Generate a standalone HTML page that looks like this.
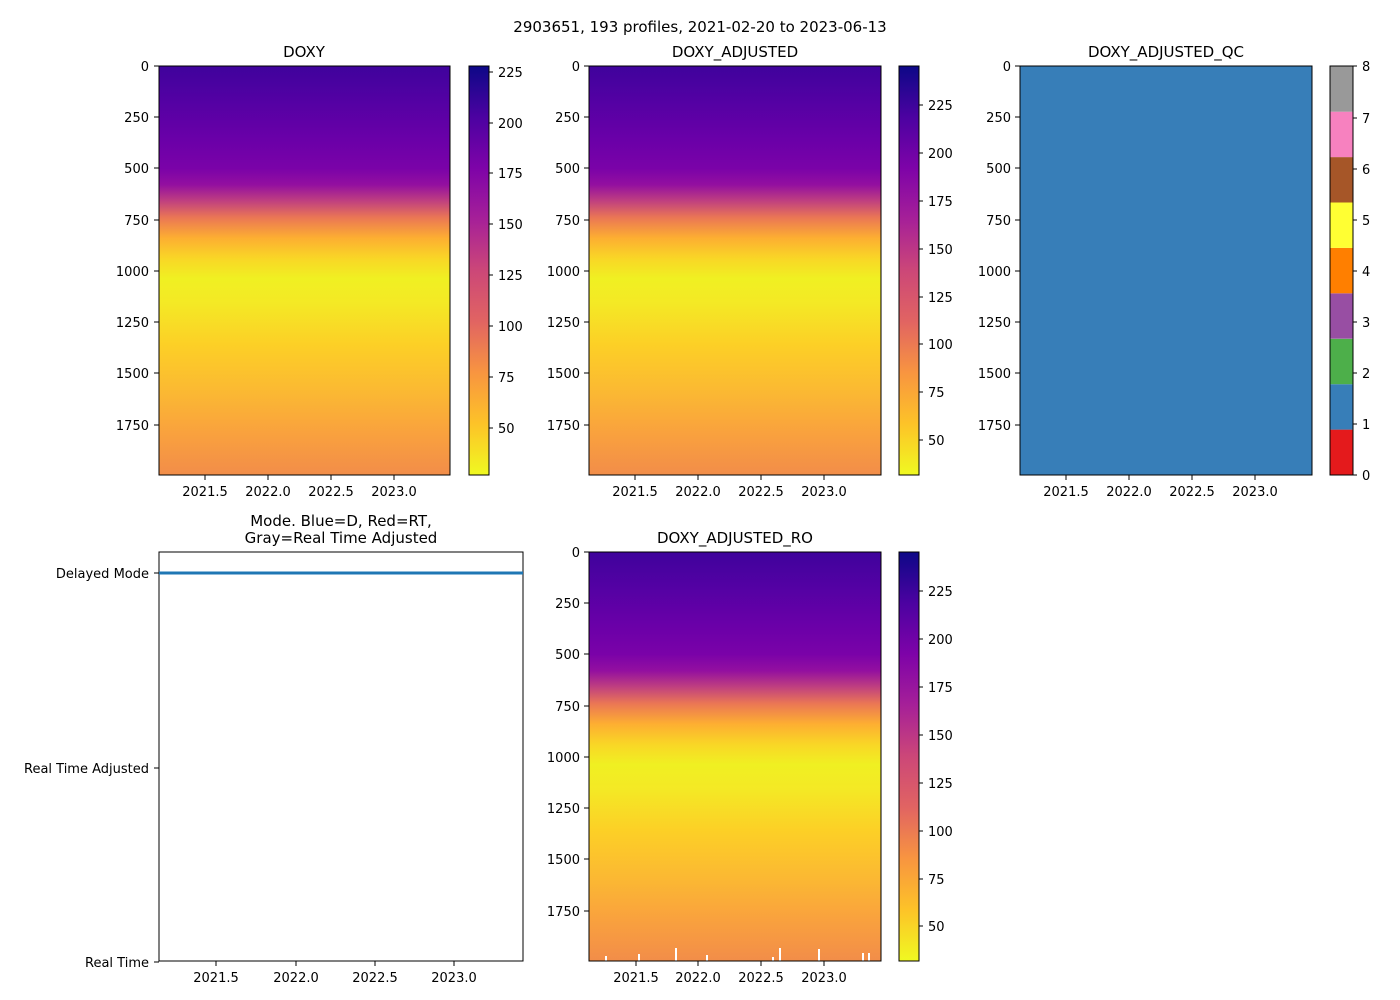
<!DOCTYPE html>
<html><head><meta charset="utf-8"><style>body{margin:0;background:#fff}svg{display:block;font-family:"DejaVu Sans","Liberation Sans",sans-serif}</style></head>
<body>
<svg width="1400" height="1000" viewBox="0 0 1400 1000" xmlns="http://www.w3.org/2000/svg">
<defs>
<linearGradient id="depth" x1="0" y1="0" x2="0" y2="1">
<stop offset="0" stop-color="#3f039c"/>
<stop offset="0.08" stop-color="#5201a3"/>
<stop offset="0.18" stop-color="#6a00a8"/>
<stop offset="0.25" stop-color="#7a02a8"/>
<stop offset="0.29" stop-color="#930fa0"/>
<stop offset="0.33" stop-color="#c0407f"/>
<stop offset="0.37" stop-color="#ea7655"/>
<stop offset="0.42" stop-color="#fdae32"/>
<stop offset="0.47" stop-color="#f9d626"/>
<stop offset="0.52" stop-color="#f0f022"/>
<stop offset="0.58" stop-color="#f4e925"/>
<stop offset="0.68" stop-color="#fcd026"/>
<stop offset="0.8" stop-color="#fbb833"/>
<stop offset="0.9" stop-color="#f9a13e"/>
<stop offset="1" stop-color="#f28d49"/>
</linearGradient>
<linearGradient id="plasma" x1="0" y1="1" x2="0" y2="0">
<stop offset="0" stop-color="#f0f921"/>
<stop offset="0.125" stop-color="#fdc328"/>
<stop offset="0.25" stop-color="#f89540"/>
<stop offset="0.375" stop-color="#e16462"/>
<stop offset="0.5" stop-color="#cc4778"/>
<stop offset="0.625" stop-color="#a62098"/>
<stop offset="0.75" stop-color="#7e03a8"/>
<stop offset="0.875" stop-color="#4c02a1"/>
<stop offset="1" stop-color="#0d0887"/>
</linearGradient>
</defs>
<text x="700" y="32" font-size="15" text-anchor="middle">2903651, 193 profiles, 2021-02-20 to 2023-06-13</text>

<g font-size="13" fill="#000">
<text x="304" y="57" font-size="15" text-anchor="middle">DOXY</text>
<rect x="159" y="66" width="291" height="409" fill="url(#depth)"/>
<rect x="159" y="66" width="291" height="409" fill="none" stroke="#000"/>
<rect x="469" y="66" width="20" height="409" fill="url(#plasma)" stroke="#000"/>

<text x="735" y="57" font-size="15" text-anchor="middle">DOXY_ADJUSTED</text>
<rect x="589" y="66" width="292" height="409" fill="url(#depth)"/>
<rect x="589" y="66" width="292" height="409" fill="none" stroke="#000"/>
<rect x="899" y="66" width="20" height="409" fill="url(#plasma)" stroke="#000"/>

<text x="1166" y="57" font-size="15" text-anchor="middle">DOXY_ADJUSTED_QC</text>
<rect x="1020" y="66" width="292" height="409" fill="#377eb8" stroke="#000"/>
<g>
<rect x="1330" y="429.6" width="23" height="45.4" fill="#e41a1c"/>
<rect x="1330" y="384.2" width="23" height="45.4" fill="#377eb8"/>
<rect x="1330" y="338.8" width="23" height="45.4" fill="#4daf4a"/>
<rect x="1330" y="293.3" width="23" height="45.4" fill="#984ea3"/>
<rect x="1330" y="247.9" width="23" height="45.4" fill="#ff7f00"/>
<rect x="1330" y="202.5" width="23" height="45.4" fill="#ffff33"/>
<rect x="1330" y="157.1" width="23" height="45.4" fill="#a65628"/>
<rect x="1330" y="111.7" width="23" height="45.4" fill="#f781bf"/>
<rect x="1330" y="66" width="23" height="45.7" fill="#999999"/>
<rect x="1330" y="66" width="23" height="409" fill="none" stroke="#000"/>
</g>

<text font-size="15" text-anchor="middle"><tspan x="341" y="526">Mode. Blue=D, Red=RT,</tspan><tspan x="341" y="543">Gray=Real Time Adjusted</tspan></text>
<rect x="159" y="552" width="364" height="409" fill="#fff" stroke="#000"/>
<line x1="159" y1="573" x2="523" y2="573" stroke="#1f77b4" stroke-width="3"/>
<text x="149" y="578" text-anchor="end">Delayed Mode</text>
<text x="149" y="773" text-anchor="end">Real Time Adjusted</text>
<text x="149" y="967" text-anchor="end">Real Time</text>
<path d="M154 573H159M154 768H159M154 962H159" stroke="#000"/>

<text x="735" y="543" font-size="15" text-anchor="middle">DOXY_ADJUSTED_RO</text>
<rect x="589" y="552" width="292" height="409" fill="url(#depth)"/>
<g fill="#fff">
<rect x="605" y="956" width="2" height="5"/><rect x="638" y="954" width="2" height="7"/><rect x="675" y="948" width="2" height="13"/><rect x="706" y="955" width="2" height="6"/><rect x="772" y="957" width="2" height="4"/><rect x="779" y="948" width="2" height="13"/><rect x="818" y="949" width="2" height="12"/><rect x="862" y="953" width="2" height="8"/><rect x="868" y="953" width="2" height="8"/>
</g>
<rect x="589" y="552" width="292" height="409" fill="none" stroke="#000"/>
<rect x="899" y="552" width="20" height="409" fill="url(#plasma)" stroke="#000"/>
</g>

<g font-size="13" fill="#000" text-anchor="end">
<text x="149" y="71">0</text><text x="149" y="122">250</text><text x="149" y="173">500</text><text x="149" y="225">750</text><text x="149" y="276">1000</text><text x="149" y="327">1250</text><text x="149" y="378">1500</text><text x="149" y="430">1750</text>
<path d="M154 66H159M154 117H159M154 168H159M154 220H159M154 271H159M154 322H159M154 373H159M154 425H159" stroke="#000"/>
<text x="580" y="71">0</text><text x="580" y="122">250</text><text x="580" y="173">500</text><text x="580" y="225">750</text><text x="580" y="276">1000</text><text x="580" y="327">1250</text><text x="580" y="378">1500</text><text x="580" y="430">1750</text>
<path d="M584 66H589M584 117H589M584 168H589M584 220H589M584 271H589M584 322H589M584 373H589M584 425H589" stroke="#000"/>
<text x="1011" y="71">0</text><text x="1011" y="122">250</text><text x="1011" y="173">500</text><text x="1011" y="225">750</text><text x="1011" y="276">1000</text><text x="1011" y="327">1250</text><text x="1011" y="378">1500</text><text x="1011" y="430">1750</text>
<path d="M1015 66H1020M1015 117H1020M1015 168H1020M1015 220H1020M1015 271H1020M1015 322H1020M1015 373H1020M1015 425H1020" stroke="#000"/>
<text x="580" y="557">0</text><text x="580" y="608">250</text><text x="580" y="659">500</text><text x="580" y="711">750</text><text x="580" y="762">1000</text><text x="580" y="813">1250</text><text x="580" y="864">1500</text><text x="580" y="916">1750</text>
<path d="M584 552H589M584 603H589M584 654H589M584 706H589M584 757H589M584 808H589M584 859H589M584 911H589" stroke="#000"/>
</g>

<g font-size="13" fill="#000" text-anchor="start">
<text x="498" y="77">225</text><text x="498" y="128">200</text><text x="498" y="178">175</text><text x="498" y="229">150</text><text x="498" y="280">125</text><text x="498" y="331">100</text><text x="498" y="382">75</text><text x="498" y="433">50</text>
<path d="M489 72h4M489 123h4M489 173h4M489 224h4M489 275h4M489 326h4M489 377h4M489 428h4" stroke="#000"/>
<text x="928" y="110">225</text><text x="928" y="158">200</text><text x="928" y="206">175</text><text x="928" y="254">150</text><text x="928" y="302">125</text><text x="928" y="349">100</text><text x="928" y="397">75</text><text x="928" y="445">50</text>
<path d="M919 105h4M919 153h4M919 201h4M919 249h4M919 297h4M919 344h4M919 392h4M919 440h4" stroke="#000"/>
<text x="1362" y="480">0</text><text x="1362" y="429">1</text><text x="1362" y="378">2</text><text x="1362" y="327">3</text><text x="1362" y="276">4</text><text x="1362" y="225">5</text><text x="1362" y="174">6</text><text x="1362" y="123">7</text><text x="1362" y="71">8</text>
<path d="M1353 475h4M1353 424h4M1353 373h4M1353 322h4M1353 271h4M1353 220h4M1353 169h4M1353 118h4M1353 66h4" stroke="#000"/>
<text x="928" y="596">225</text><text x="928" y="644">200</text><text x="928" y="692">175</text><text x="928" y="740">150</text><text x="928" y="788">125</text><text x="928" y="836">100</text><text x="928" y="884">75</text><text x="928" y="931">50</text>
<path d="M919 591h4M919 639h4M919 687h4M919 735h4M919 783h4M919 831h4M919 879h4M919 926h4" stroke="#000"/>
</g>

<g font-size="13" fill="#000" text-anchor="middle">
<text x="205" y="496">2021.5</text><text x="268" y="496">2022.0</text><text x="331" y="496">2022.5</text><text x="394" y="496">2023.0</text>
<path d="M205 475v5M268 475v5M331 475v5M394 475v5" stroke="#000"/>
<text x="635" y="496">2021.5</text><text x="698" y="496">2022.0</text><text x="761" y="496">2022.5</text><text x="824" y="496">2023.0</text>
<path d="M635 475v5M698 475v5M761 475v5M824 475v5" stroke="#000"/>
<text x="1066" y="496">2021.5</text><text x="1129" y="496">2022.0</text><text x="1192" y="496">2022.5</text><text x="1255" y="496">2023.0</text>
<path d="M1066 475v5M1129 475v5M1192 475v5M1255 475v5" stroke="#000"/>
<text x="216" y="982">2021.5</text><text x="296" y="982">2022.0</text><text x="375" y="982">2022.5</text><text x="454" y="982">2023.0</text>
<path d="M216 961v5M296 961v5M375 961v5M454 961v5" stroke="#000"/>
<text x="636" y="982">2021.5</text><text x="698" y="982">2022.0</text><text x="761" y="982">2022.5</text><text x="824" y="982">2023.0</text>
<path d="M636 961v5M698 961v5M761 961v5M824 961v5" stroke="#000"/>
</g>
</svg>
</body></html>
